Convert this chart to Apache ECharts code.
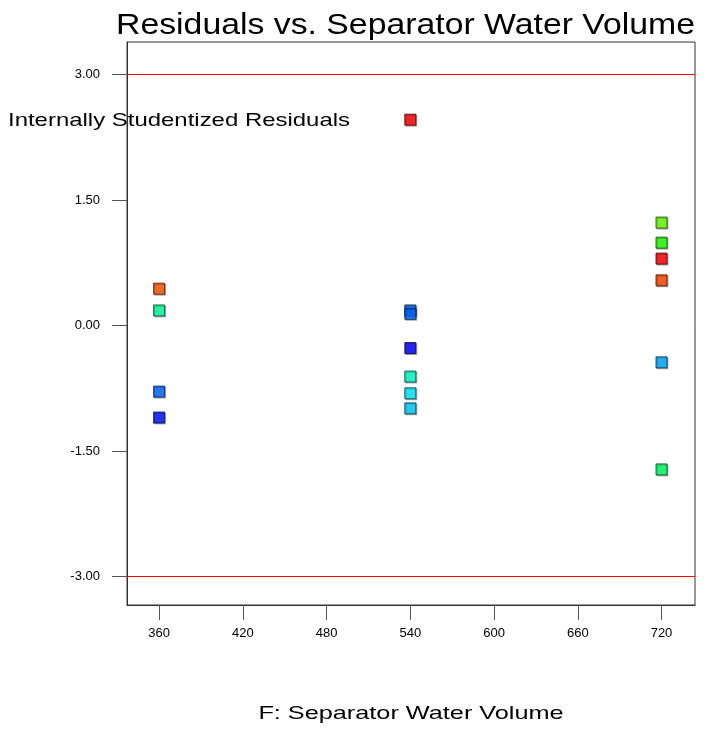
<!DOCTYPE html>
<html>
<head>
<meta charset="utf-8">
<script src="https://cdn.jsdelivr.net/npm/echarts@6/dist/echarts.min.js"></script>
<style>html,body{margin:0;padding:0;background:#fff}#c{width:715px;height:735px}</style>
</head>
<body>
<div id="c"></div>
<script>
var titleText = 'Residuals vs. Separator Water Volume';
var xAxisTitle = 'F: Separator Water Volume';
var yAxisTitle = 'Internally Studentized Residuals';
var xTicks = [360, 420, 480, 540, 600, 660, 720];
var yTicks = [-3, -1.5, 0, 1.5, 3];
var limitLines = [3, -3];
var xValues = [360, 360, 360, 360, 540, 540, 540, 540, 540, 540, 540, 720, 720, 720, 720, 720, 720];
var yValues = [0.44, 0.18, -0.79, -1.10, 2.46, 0.18, 0.14, -0.27, -0.61, -0.81, -0.99, 1.23, 0.99, 0.80, 0.54, -0.44, -1.72];
var pointColors = ['#ff5500', '#00ff99', '#0066ff', '#0011ff', '#ff0000', '#0066ff', '#0066ff', '#0000ff', '#00ffcc', '#00eeff', '#00ccff', '#66ff00', '#22ff00', '#ff0000', '#ff4400', '#00aaff', '#00ff66'];

function darker(hex) {
  var r = parseInt(hex.substr(1,2),16), g = parseInt(hex.substr(3,2),16), b = parseInt(hex.substr(5,2),16);
  return 'rgb(' + Math.round(r*0.3) + ',' + Math.round(g*0.3) + ',' + Math.round(b*0.3) + ')';
}

var data = xValues.map(function (x, i) {
  return {
    value: [x, yValues[i]],
    itemStyle: { color: pointColors[i], borderColor: darker(pointColors[i]) }
  };
});

var chart = echarts.init(document.getElementById('c'));
var font = 'Liberation Sans, Arial, sans-serif';
chart.setOption({
  animation: false,
  backgroundColor: '#fff',
  grid: {
    left: 127, right: 20, top: 42, bottom: 130,
    show: true, borderColor: '#333', borderWidth: 1, backgroundColor: '#fff'
  },
  graphic: [{
    type: 'text', x: 695, y: 26, scaleX: 1.165, originX: 0, originY: 0,
    style: { text: titleText, font: '29px ' + font, fill: '#000', align: 'right', verticalAlign: 'middle' },
    z: 10
  }, {
    type: 'text', x: 8, y: 121, scaleX: 1.26, originX: 0, originY: 0,
    style: { text: yAxisTitle, font: '19px ' + font, fill: '#000', align: 'left', verticalAlign: 'middle' },
    z: 10
  }, {
    type: 'text', x: 411, y: 714, scaleX: 1.33, originX: 0, originY: 0,
    style: { text: xAxisTitle, font: '19px ' + font, fill: '#000', align: 'center', verticalAlign: 'middle' },
    z: 10
  }],
  xAxis: {
    type: 'value', min: 337, max: 744,
    axisLine: { show: true, onZero: false, lineStyle: { color: '#333' } },
    axisTick: { show: true, length: 15, customValues: xTicks, lineStyle: { color: '#555' } },
    axisLabel: { customValues: xTicks, fontFamily: font, fontSize: 13, color: '#000', margin: 22 },
    splitLine: { show: false }
  },
  yAxis: {
    type: 'value', min: -3.3406, max: 3.3884,
    axisLine: { show: true, onZero: false, lineStyle: { color: '#333' } },
    axisTick: { show: true, length: 15, customValues: yTicks, lineStyle: { color: '#555' } },
    axisLabel: {
      customValues: yTicks, fontFamily: font, fontSize: 13, color: '#000', margin: 27,
      formatter: function (v) { return v.toFixed(2); }
    },
    splitLine: { show: false }
  },
  series: [{
    type: 'scatter',
    symbol: 'rect',
    symbolSize: 11,
    data: data,
    z: 5,
    itemStyle: {
      borderWidth: 1,
      shadowColor: 'rgba(0,0,0,0.35)', shadowBlur: 0, shadowOffsetX: 1, shadowOffsetY: 1
    }
  }, {
    type: 'scatter',
    data: [],
    silent: true,
    markLine: {
      silent: true, symbol: 'none',
      label: { show: false },
      z: 10,
      lineStyle: { color: '#ff0000', type: 'solid', width: 1, opacity: 1 },
      emphasis: { disabled: true },
      data: limitLines.map(function (v) { return { yAxis: v }; })
    }
  }]
});
</script>
</body>
</html>
